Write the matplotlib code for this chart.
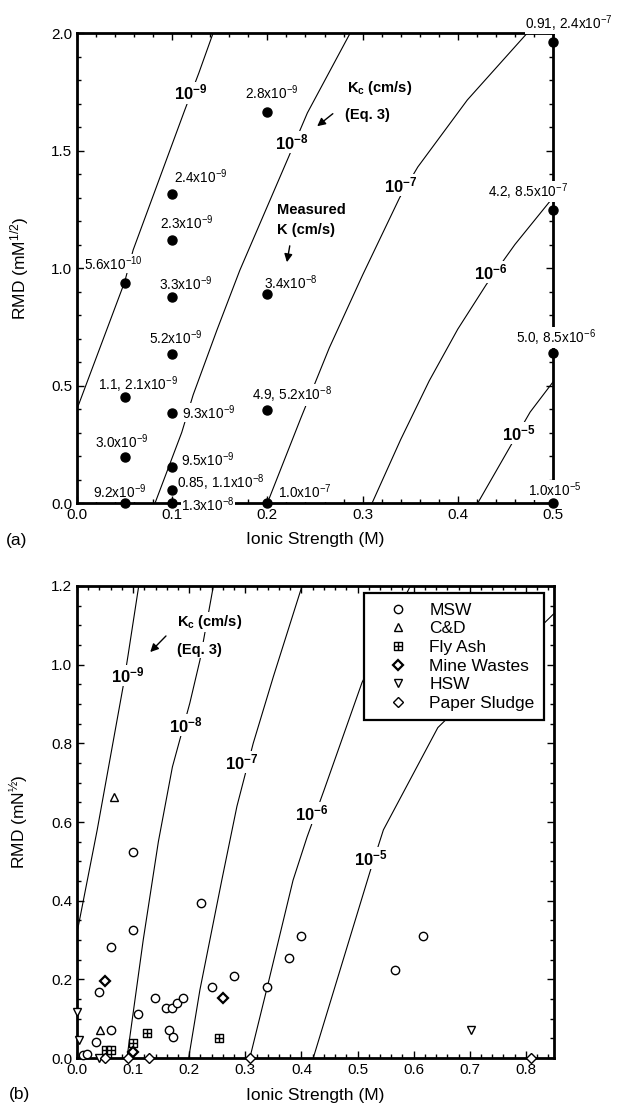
import matplotlib
matplotlib.use('Agg')
import matplotlib.pyplot as plt
from matplotlib.path import Path
from matplotlib.ticker import MultipleLocator

plt.rcParams['font.family'] = ['Liberation Sans', 'DejaVu Sans']
plt.rcParams['mathtext.default'] = 'regular'

# ---- (a) measured K at each ionic strength / RMD ----
ionic_a = [0.05, 0.1, 0.1, 0.2, 0.1, 0.2, 0.1, 0.05, 0.1, 0.2,
           0.05, 0.1, 0.1, 0.05, 0.1, 0.2, 0.5, 0.5, 0.5, 0.5]
rmd_a = [0.935, 1.315, 1.12, 1.665, 0.875, 0.89, 0.635, 0.45, 0.385, 0.395,
         0.195, 0.155, 0.055, 0.0, 0.0, 0.0, 1.96, 1.245, 0.64, 0.0]
k_labels_a = ['5.6x10$^{-10}$', '2.4x10$^{-9}$', '2.3x10$^{-9}$', '2.8x10$^{-9}$',
              '3.3x10$^{-9}$', '3.4x10$^{-8}$', '5.2x10$^{-9}$', '1.1, 2.1x10$^{-9}$',
              '9.3x10$^{-9}$', '4.9, 5.2x10$^{-8}$', '3.0x10$^{-9}$', '9.5x10$^{-9}$',
              '0.85, 1.1x10$^{-8}$', '9.2x10$^{-9}$', '1.3x10$^{-8}$', '1.0x10$^{-7}$',
              '0.91, 2.4x10$^{-7}$', '4.2, 8.5x10$^{-7}$', '5.0, 8.5x10$^{-6}$', '1.0x10$^{-5}$']

# Kc contours (Eq. 3), panel (a)
kc_names = ['10$^{-9}$', '10$^{-8}$', '10$^{-7}$', '10$^{-6}$', '10$^{-5}$']
kc_a_ionic = [
    [0.0, 0.05, 0.059, 0.113, 0.128, 0.143],
    [0.082, 0.11, 0.122, 0.147, 0.171, 0.222, 0.242, 0.287],
    [0.2, 0.235, 0.265, 0.30, 0.339, 0.358, 0.41, 0.473],
    [0.31, 0.34, 0.37, 0.40, 0.43, 0.46, 0.5],
    [0.421, 0.455, 0.476, 0.5],
]
kc_a_rmd = [
    [0.40, 0.94, 1.077, 1.67, 1.83, 2.0],
    [0.0, 0.30, 0.46, 0.736, 0.99, 1.47, 1.66, 2.0],
    [0.0, 0.36, 0.66, 0.97, 1.30, 1.43, 1.715, 2.0],
    [0.0, 0.27, 0.52, 0.74, 0.93, 1.10, 1.30],
    [0.0, 0.24, 0.387, 0.515],
]

# Kc contours (Eq. 3), panel (b)
kc_b_ionic = [
    [0.0, 0.036, 0.082, 0.091, 0.11],
    [0.089, 0.118, 0.145, 0.17, 0.201, 0.219, 0.243],
    [0.199, 0.219, 0.258, 0.285, 0.314, 0.35, 0.401],
    [0.308, 0.339, 0.385, 0.41, 0.44, 0.508, 0.594],
    [0.421, 0.522, 0.546, 0.643, 0.85],
]
kc_b_rmd = [
    [0.318, 0.58, 0.943, 1.024, 1.2],
    [0.0, 0.30, 0.55, 0.74, 0.902, 1.011, 1.2],
    [0.0, 0.173, 0.452, 0.64, 0.80, 0.97, 1.2],
    [0.0, 0.18, 0.452, 0.562, 0.68, 0.955, 1.2],
    [0.0, 0.473, 0.58, 0.84, 1.13],
]

# ---- (b) leachates ----
msw_i = [0.061, 0.1, 0.1, 0.039, 0.109, 0.139, 0.159, 0.169, 0.178, 0.189, 0.061, 0.164,
         0.171, 0.034, 0.01, 0.018, 0.221, 0.399, 0.378, 0.28, 0.241, 0.339, 0.617, 0.567]
msw_r = [0.283, 0.523, 0.325, 0.168, 0.112, 0.152, 0.127, 0.127, 0.14, 0.153, 0.071, 0.071,
         0.053, 0.041, 0.008, 0.01, 0.394, 0.31, 0.254, 0.209, 0.181, 0.18, 0.31, 0.224]
cd_i = [0.066, 0.041]
cd_r = [0.663, 0.071]
fly_i = [0.052, 0.06, 0.1, 0.125, 0.253]
fly_r = [0.02, 0.02, 0.038, 0.063, 0.05]
mine_i = [0.05, 0.26, 0.1]
mine_r = [0.196, 0.153, 0.015]
hsw_i = [0.0, 0.004, 0.04, 0.702]
hsw_r = [0.117, 0.046, 0.0, 0.071]
paper_i = [0.05, 0.091, 0.128, 0.308, 0.809]
paper_r = [0.0, 0.0, 0.0, 0.0, 0.0]

# label offsets (pixels) and alignment for the (a) point labels
lab_dx = [-11, 29, 15, 4, 14, 23, 4, 13, 10, 25, -3, 9, 5, -5, 9, 11, 16, -25, 3, 2]
lab_dy = [20, 17, 17, 19, 14, 11, 16, 13, 0, 15, 15, 7, 7, 11, -2, 11, 19, 19, 15, 13]
lab_ha = ['center'] * 20
for j in (8, 11, 12, 14, 15):
    lab_ha[j] = 'left'

W, H = 618, 1106
fig = plt.figure(figsize=(W / 100, H / 100), dpi=100)
ax1 = fig.add_axes([77 / W, 1 - 503 / H, 476 / W, 470 / H])
ax2 = fig.add_axes([77 / W, 1 - 1058 / H, 477 / W, 472 / H])

white = dict(facecolor='white', edgecolor='none', pad=0.6)


def style_axes(ax):
    for s in ax.spines.values():
        s.set_linewidth(2.0)
    ax.tick_params(which='both', direction='in', top=True, right=True, labelsize=11, width=1.0)
    ax.tick_params(which='major', length=5)
    ax.tick_params(which='minor', length=3)


# panel (a)
for xs, ys in zip(kc_a_ionic, kc_a_rmd):
    ax1.plot(xs, ys, color='k', lw=0.8, zorder=2)
kc_a_lab = [(0.119, 1.745), (0.226, 1.536), (0.34, 1.353), (0.435, 0.983), (0.464, 0.298)]
for name, (x, y) in zip(kc_names, kc_a_lab):
    ax1.text(x, y, name, fontsize=12, fontweight='bold', ha='center', va='center', bbox=white)

ax1.plot(ionic_a, rmd_a, 'o', color='k', ms=6.5, clip_on=False, zorder=5)
for j, txt in enumerate(k_labels_a):
    ax1.annotate(txt, (ionic_a[j], rmd_a[j]), xytext=(lab_dx[j], lab_dy[j]),
                 textcoords='offset pixels', ha=lab_ha[j], va='center', fontsize=9.8,
                 bbox=dict(facecolor='white', edgecolor='none', pad=0.3),
                 annotation_clip=False, zorder=3)

ax1.text(0.284, 1.766, 'K$_c$ (cm/s)', fontsize=10.5, fontweight='bold', va='center')
ax1.text(0.281, 1.651, '(Eq. 3)', fontsize=10.5, fontweight='bold', va='center')
ax1.annotate('', xy=(0.25, 1.596), xytext=(0.271, 1.664),
             arrowprops=dict(arrowstyle='-|>', color='k', lw=1.0, mutation_scale=12))
ax1.text(0.21, 1.247, 'Measured', fontsize=10.5, fontweight='bold', va='center')
ax1.text(0.21, 1.162, 'K (cm/s)', fontsize=10.5, fontweight='bold', va='center')
ax1.annotate('', xy=(0.22, 1.013), xytext=(0.224, 1.106),
             arrowprops=dict(arrowstyle='-|>', color='k', lw=1.0, mutation_scale=12))

ax1.set_xlim(0, 0.5)
ax1.set_ylim(0, 2.0)
ax1.xaxis.set_major_locator(MultipleLocator(0.1))
ax1.xaxis.set_minor_locator(MultipleLocator(0.02))
ax1.yaxis.set_major_locator(MultipleLocator(0.5))
ax1.yaxis.set_minor_locator(MultipleLocator(0.1))
style_axes(ax1)
ax1.set_xlabel('Ionic Strength (M)', fontsize=12.5)
ax1.set_ylabel('RMD (mM$^{1/2}$)', fontsize=12.5)
ax1.xaxis.set_label_coords(0.5, -0.062)
ax1.yaxis.set_label_coords(-0.097, 0.5)

# panel (b)
for xs, ys in zip(kc_b_ionic, kc_b_rmd):
    ax2.plot(xs, ys, color='k', lw=0.8, zorder=2)
kc_b_lab = [(0.091, 0.973), (0.193, 0.846), (0.294, 0.752), (0.419, 0.623), (0.524, 0.508)]
for name, (x, y) in zip(kc_names, kc_b_lab):
    ax2.text(x, y, name, fontsize=12, fontweight='bold', ha='center', va='center', bbox=white)

ax2.text(0.178, 1.108, 'K$_c$ (cm/s)', fontsize=10.5, fontweight='bold', va='center', bbox=white)
ax2.text(0.178, 1.037, '(Eq. 3)', fontsize=10.5, fontweight='bold', va='center', bbox=white)
ax2.annotate('', xy=(0.127, 1.027), xytext=(0.162, 1.078),
             arrowprops=dict(arrowstyle='-|>', color='k', lw=1.0, mutation_scale=12))

sq_cross = Path([(-1, -1), (1, -1), (1, 1), (-1, 1), (-1, -1), (0, -1), (0, 1), (-1, 0), (1, 0)],
                [Path.MOVETO, Path.LINETO, Path.LINETO, Path.LINETO, Path.CLOSEPOLY,
                 Path.MOVETO, Path.LINETO, Path.MOVETO, Path.LINETO])
mk = dict(linestyle='none', mfc='white', mec='k', clip_on=False, zorder=4)
ax2.plot(msw_i, msw_r, 'o', ms=6, mew=1.0, label='MSW', **mk)
ax2.plot(cd_i, cd_r, '^', ms=6, mew=1.0, label='C&D', **mk)
ax2.plot(fly_i, fly_r, marker=sq_cross, ms=6, mew=1.0, label='Fly Ash', **mk)
ax2.plot(mine_i, mine_r, 'D', ms=5.5, mew=1.6, label='Mine Wastes', **mk)
ax2.plot(hsw_i, hsw_r, 'v', ms=6, mew=1.0, label='HSW', **mk)
ax2.plot(paper_i, paper_r, 'D', ms=5, mew=1.0, label='Paper Sludge', **mk)

leg = ax2.legend(loc='upper right', bbox_to_anchor=(0.979, 0.985), borderaxespad=0,
                 fontsize=12.5, frameon=True, fancybox=False, framealpha=1,
                 edgecolor='k', handlelength=2.8, handletextpad=0.4,
                 labelspacing=0.2, borderpad=0.55, numpoints=1)
leg.get_frame().set_linewidth(1.6)
leg.set_zorder(6)

ax2.set_xlim(0, 0.85)
ax2.set_ylim(0, 1.2)
ax2.xaxis.set_major_locator(MultipleLocator(0.1))
ax2.xaxis.set_minor_locator(MultipleLocator(0.02))
ax2.yaxis.set_major_locator(MultipleLocator(0.2))
ax2.yaxis.set_minor_locator(MultipleLocator(0.05))
style_axes(ax2)
ax2.set_xlabel('Ionic Strength (M)', fontsize=12.5)
ax2.set_ylabel('RMD (mN$^{½}$)', fontsize=12.5)
ax2.xaxis.set_label_coords(0.5, -0.0636)
ax2.yaxis.set_label_coords(-0.097, 0.5)

fig.text(17 / W, 1 - 540 / H, '(a)', fontsize=12.5, ha='center', va='center')
fig.text(20 / W, 1 - 1095 / H, '(b)', fontsize=12.5, ha='center', va='center')

fig.savefig('out.png', dpi=100)
